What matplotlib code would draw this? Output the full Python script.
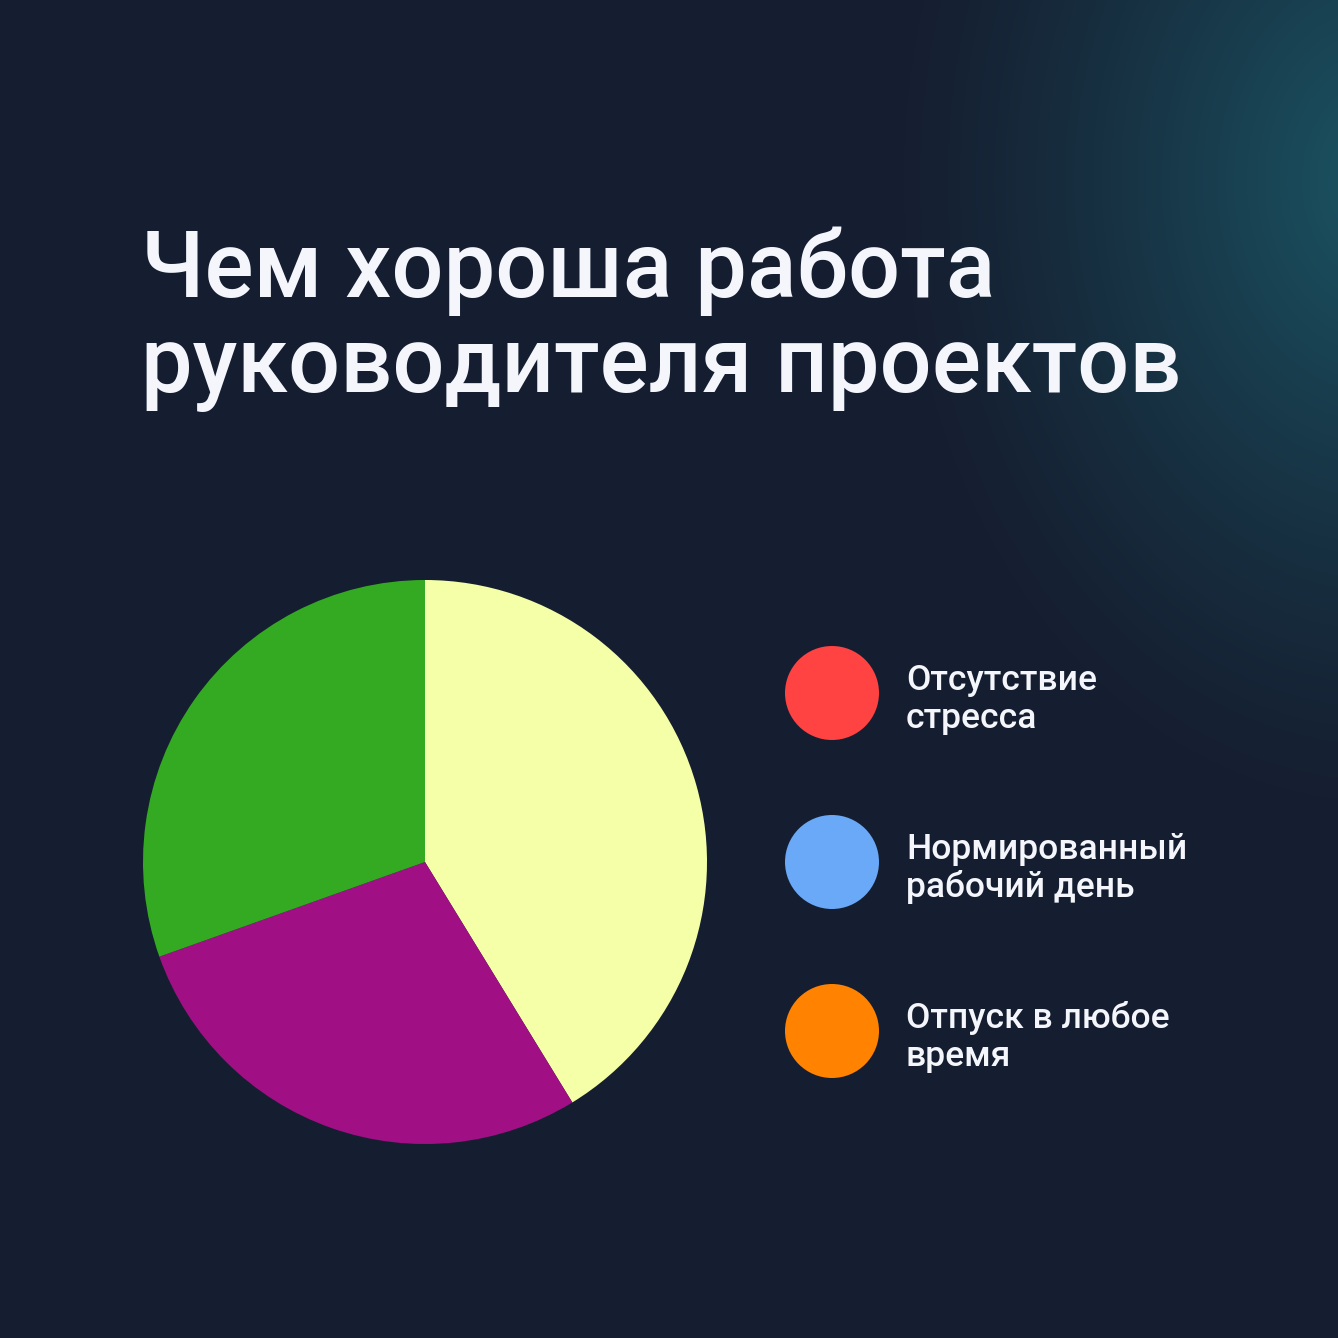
import numpy as np
import matplotlib
matplotlib.use("Agg")
import matplotlib.pyplot as plt
from matplotlib.patches import Circle

# ---- data ----
title_lines = ["Чем хороша работа", "руководителя проектов"]
slice_values = [41.25, 28.3, 30.45]
slice_colors = ["#f4ffa8", "#a01084", "#33aa22"]
legend_labels = [["Отсутствие", "стресса"],
                 ["Нормированный", "рабочий день"],
                 ["Отпуск в любое", "время"]]
legend_colors = ["#ff4242", "#6aa8f8", "#ff8200"]

W = H = 1338
DPI = 100
fig = plt.figure(figsize=(W / DPI, H / DPI), dpi=DPI)

# background with teal glow in top-right
bg = fig.add_axes([0, 0, 1, 1])
bg.set_xlim(0, W)
bg.set_ylim(H, 0)
bg.axis("off")
yy, xx = np.mgrid[0:H:2, 0:W:2]
d = np.sqrt(((xx - 1380) / 500.0) ** 2 + ((yy - 180) / 650.0) ** 2)
t = np.clip(1 - d, 0, 1) ** 1.3
base = np.array([0x15, 0x1e, 0x30]) / 255.0
teal = np.array([0x1b, 0x55, 0x64]) / 255.0
img = base[None, None, :] * (1 - t[..., None]) + teal[None, None, :] * t[..., None]
bg.imshow(img, extent=[0, W, H, 0], aspect="auto", interpolation="bilinear", zorder=0)

font = ["Roboto", "DejaVu Sans"]

# title
for i, line in enumerate(title_lines):
    bg.text(141, 297 + i * 95, line, fontsize=66, color="#f4f6fb",
            family=font, fontweight="medium", va="baseline", ha="left", zorder=2)

# pie
cx, cy, r = 425, 862, 282
pax = fig.add_axes([(cx - r) / W, (H - cy - r) / H, 2 * r / W, 2 * r / H])
pax.pie(slice_values, colors=slice_colors, startangle=90, counterclock=False,
        wedgeprops=dict(linewidth=0))
pax.set_xlim(-1, 1)
pax.set_ylim(-1, 1)
pax.set_aspect("equal")
pax.axis("off")

# legend
for i, (lab, col) in enumerate(zip(legend_labels, legend_colors)):
    y0 = 693 + i * 169
    bg.add_patch(Circle((832, y0), 47, color=col, zorder=2, linewidth=0))
    for j, ln in enumerate(lab):
        bg.text(906, y0 - 3 + j * 38, ln, fontsize=25.5, color="#f4f6fb",
                family=font, fontweight="medium", va="baseline", ha="left", zorder=2)

fig.savefig("out.png", dpi=DPI, facecolor="#151e30")
